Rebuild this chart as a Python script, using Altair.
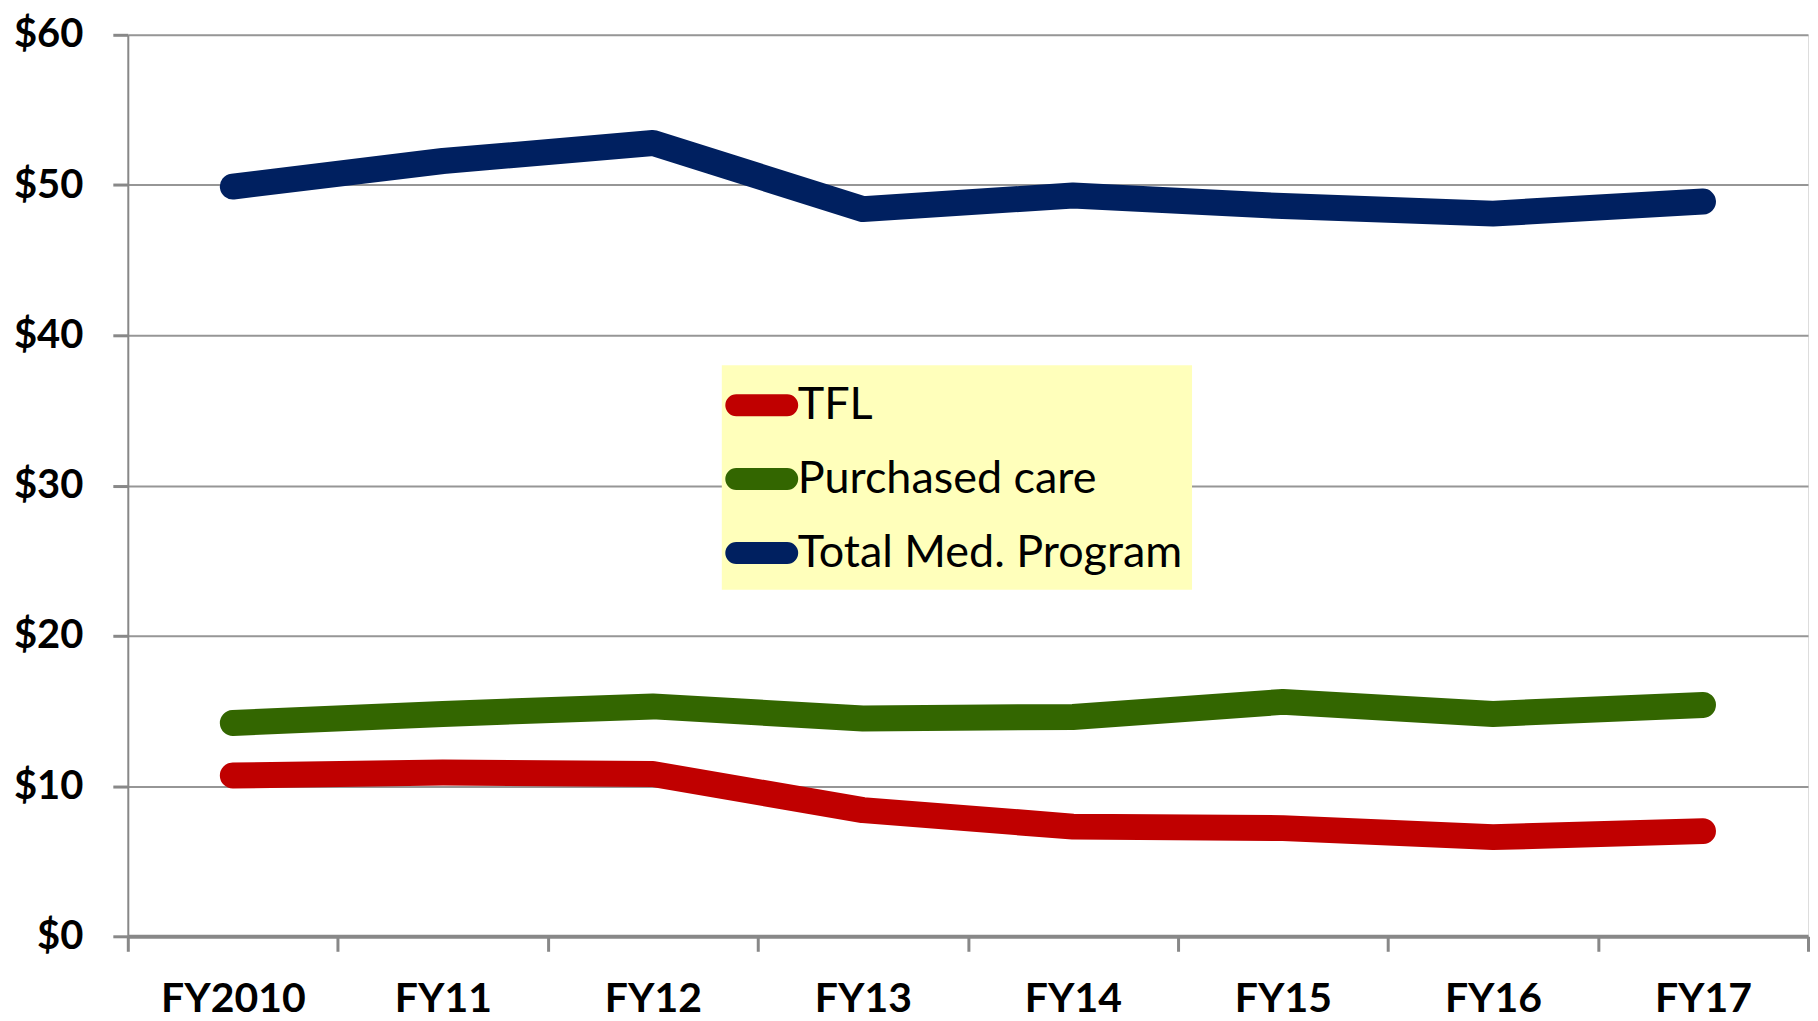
import altair as alt
import pandas as pd

years = ["FY2010", "FY11", "FY12", "FY13", "FY14", "FY15", "FY16", "FY17"]
tfl = [10.7, 10.9, 10.8, 8.4, 7.3, 7.2, 6.6, 7.0]
purchased = [14.2, 14.8, 15.3, 14.5, 14.6, 15.6, 14.8, 15.4]
total = [49.9, 51.6, 52.8, 48.4, 49.3, 48.6, 48.1, 48.9]
series = ["TFL", "Purchased care", "Total Med. Program"]
colors = ["#C00000", "#336600", "#002060"]
y_ticks = [0, 10, 20, 30, 40, 50, 60]

rows = []
for name, vals in zip(series, [tfl, purchased, total]):
    for yr, v in zip(years, vals):
        rows.append({"year": yr, "series": name, "value": v})
df = pd.DataFrame(rows)

# rounded "capsule" legend symbol (unit path, scaled by the legend symbol size)
capsule = (
    "M-1,-0.2157L1,-0.2157"
    "C1.1191,-0.2157,1.2157,-0.1191,1.2157,0"
    "C1.2157,0.1191,1.1191,0.2157,1,0.2157"
    "L-1,0.2157"
    "C-1.1191,0.2157,-1.2157,0.1191,-1.2157,0"
    "C-1.2157,-0.1191,-1.1191,-0.2157,-1,-0.2157Z"
)

chart = (
    alt.Chart(df)
    .mark_line(strokeWidth=26, strokeCap="round", strokeJoin="round")
    .encode(
        x=alt.X(
            "year:N",
            sort=years,
            bandPosition=0.5,
            scale=alt.Scale(type="band", paddingInner=0, paddingOuter=0),
            axis=alt.Axis(
                title=None,
                labelAngle=0,
                tickBand="extent",
                grid=False,
                labelFont="Lato",
                labelFontSize=41,
                labelFontWeight="bold",
                labelColor="#000000",
                labelPadding=28,
                tickSize=15,
                tickWidth=3,
                tickColor="#888888",
                domainColor="#888888",
                domainWidth=4,
            ),
        ),
        y=alt.Y(
            "value:Q",
            scale=alt.Scale(domain=[0, 60]),
            axis=alt.Axis(
                title=None,
                values=y_ticks,
                format="$d",
                labelFont="Lato",
                labelFontSize=40,
                labelFontWeight="bold",
                labelColor="#000000",
                labelPadding=30,
                tickSize=15,
                tickWidth=3,
                tickColor="#888888",
                domainColor="#888888",
                domainWidth=2,
                gridColor="#969696",
                gridWidth=2,
            ),
        ),
        color=alt.Color(
            "series:N",
            sort=series,
            scale=alt.Scale(domain=series, range=colors),
            legend=alt.Legend(
                title=None,
                orient="none",
                legendX=595,
                legendY=331,
                fillColor="#FFFFBB",
                padding=9,
                symbolType=capsule,
                symbolSize=2601,
                symbolStrokeWidth=11,
                labelFont="Lato",
                labelFontSize=45,
                labelColor="#000000",
                labelOffset=5,
                rowPadding=15,
                labelLimit=800,
            ),
        ),
    )
    .properties(width=1683, height=903, padding={"left": 5, "top": 6, "right": 0, "bottom": 0})
    .configure_view(fill="#F2F2F2", strokeWidth=0)
    .configure(background="#FFFFFF")
)

chart.save("out.html", embed_options={"renderer": "svg", "actions": False})
